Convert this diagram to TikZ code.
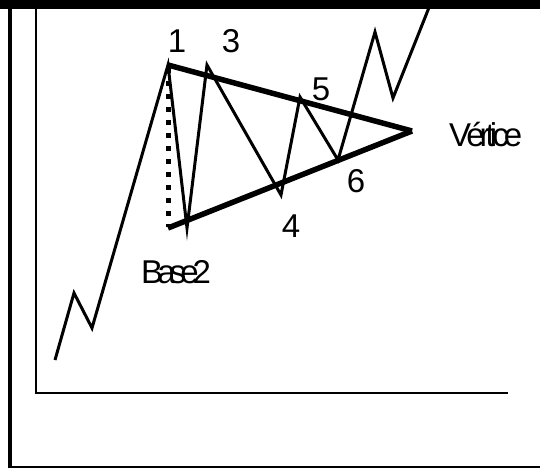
\documentclass[tikz,border=0pt]{standalone}
\usepackage{fontspec}
\setmainfont{Liberation Sans}
\newfontfamily\tightfont[LetterSpace=-18]{Liberation Sans}
\newfontfamily\tighterfont[LetterSpace=-15]{Liberation Sans}
\begin{document}
\begin{tikzpicture}[x=1pt,y=-1pt,
  price/.style={line width=3pt},
  trend/.style={line width=5.5pt},
  axisline/.style={line width=2pt},
  lbl/.style={font=\fontsize{33}{33}\selectfont, inner sep=0pt, anchor=base},
  wlbl/.style={font=\fontsize{33}{33}\selectfont\tightfont, inner sep=0pt, anchor=base west}]
\useasboundingbox (0,0) rectangle (540,468);
% points
\coordinate (s0) at (55,360);
\coordinate (s1) at (74,293);
\coordinate (s2) at (92,328);
\coordinate (p1) at (168,65);
\coordinate (s3) at (187,228);
\coordinate (p3) at (207,65);
\coordinate (p4) at (281,195);
\coordinate (p5) at (300,97);
\coordinate (p6) at (338,160);
\coordinate (s7) at (375,32);
\coordinate (s8) at (393,98);
\coordinate (s9) at (432,0);
\coordinate (base) at (168,228);
\coordinate (vert) at (412,131);
\coordinate (dtop) at (168,68);
\coordinate (dbot) at (168,227);
% axes
\coordinate (ax0) at (36,9);
\coordinate (ax1) at (36,393);
\coordinate (ax2) at (508,393);
\draw[axisline] (ax0) -- (ax1) -- (ax2);
% dotted height
\draw[line width=5pt, dash pattern=on 5pt off 8pt] (dtop) -- (dbot);
% price line
\draw[price] (s0) -- (s1) -- (s2) -- (p1) -- (s3) -- (p3) -- (p4) -- (p5) -- (p6) -- (s7) -- (s8) -- (s9);
% trend lines
\draw[trend] (p1) -- (vert);
\draw[trend] (base) -- (vert);
% frame
\fill (0,0) rectangle (540,9);
\draw[line width=4pt] (10,9) -- (10,468);
\draw[line width=2pt] (9,466.5) -- (540,466.5);
% labels
\node[lbl] (l1) at (177,53) {1};
\node[lbl] (l3) at (231,53) {3};
\node[lbl] (l5) at (321,100) {5};
\node[lbl] (l6) at (356,192) {6};
\node[lbl] (l4) at (291,237) {4};
\node[wlbl, font=\fontsize{33}{33}\selectfont\tighterfont] (lv) at (449,146) {Vértice};
\node[wlbl] (lb) at (141,283) {Base2};
\end{tikzpicture}
\end{document}
